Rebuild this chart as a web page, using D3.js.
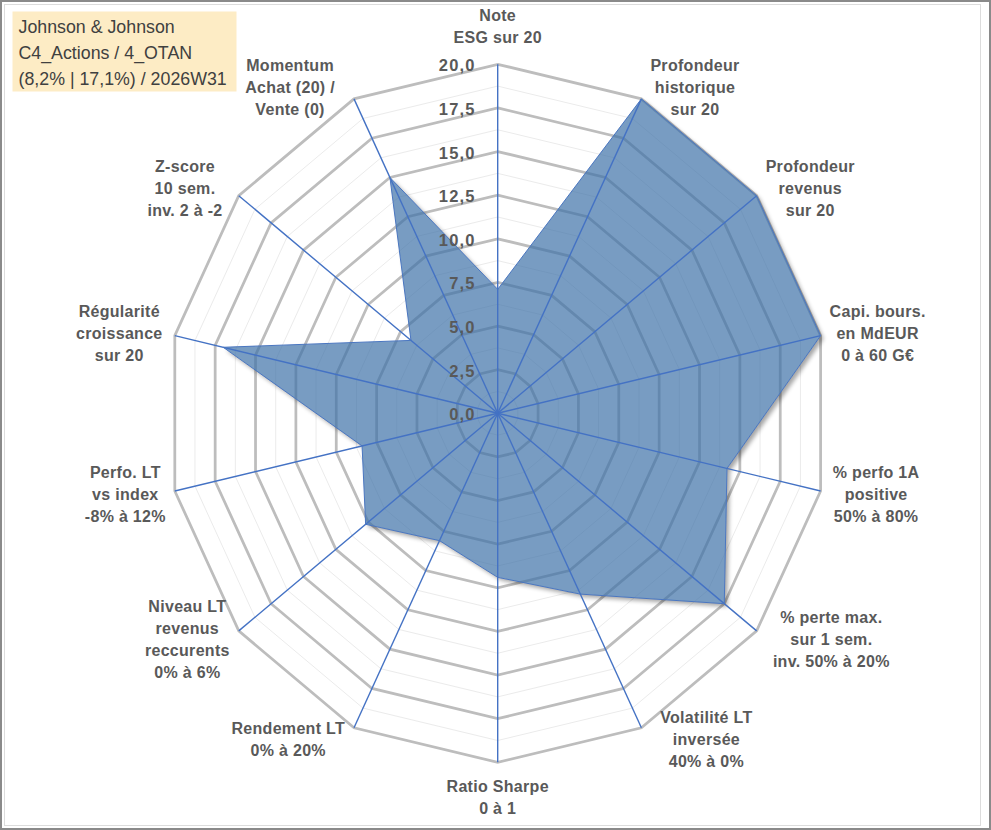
<!DOCTYPE html>
<html>
<head>
<meta charset="utf-8">
<script src="https://cdn.jsdelivr.net/npm/d3@7/dist/d3.min.js"></script>
<style>
  body { margin: 0; background: #fff; }
  svg { display: block; }
  .axis-label { font-family: "Liberation Sans", Arial, sans-serif; font-weight: bold; font-size: 16px; fill: #595959; letter-spacing: 0.3px; }
  .tick-label { font-family: "Liberation Sans", Arial, sans-serif; font-weight: bold; font-size: 16.5px; fill: #595959; letter-spacing: 1.2px; }
  .title { font-family: "Liberation Sans", Arial, sans-serif; font-size: 17.8px; fill: #404040; }
</style>
</head>
<body>
<svg width="991" height="830"></svg>
<script>
const categories = [
  "Note\nESG sur 20",
  "Profondeur\nhistorique\nsur 20",
  "Profondeur\nrevenus\nsur 20",
  "Capi. bours.\nen MdEUR\n0 à 60 G€",
  "% perfo 1A\npositive\n50% à 80%",
  "% perte max.\nsur 1 sem.\ninv. 50% à 20%",
  "Volatilité LT\ninversée\n40% à 0%",
  "Ratio Sharpe\n0 à 1",
  "Rendement LT\n0% à 20%",
  "Niveau LT\nrevenus\nreccurents\n0% à 6%",
  "Perfo. LT\nvs index\n-8% à 12%",
  "Régularité\ncroissance\nsur 20",
  "Z-score\n10 sem.\ninv. 2 à -2",
  "Momentum\nAchat (20) /\nVente (0)"
];
const values = [7.1, 20, 20, 20, 14.2, 17.5, 11.5, 9.4, 8.1, 10.2, 8.4, 17, 6.7, 15];
const tickValues = [0, 2.5, 5, 7.5, 10, 12.5, 15, 17.5, 20];
const tickLabels = ["0,0", "2,5", "5,0", "7,5", "10,0", "12,5", "15,0", "17,5", "20,0"];
const titleLines = ["Johnson & Johnson", "C4_Actions / 4_OTAN", "(8,2% | 17,1%) / 2026W31"];

const svg = d3.select('svg');
const W = 991, H = 830;

// the reference plot is a bit narrower than it is tall
const cx = 497.7, cy = 413.3;
const xStretch = 0.949;
const n = categories.length;

const rScale = d3.scaleLinear().domain([0, 20]).range([0, 349]);
const angle = d3.scaleLinear().domain([0, n]).range([0, 2 * Math.PI]);

const point = (i, v) => {
  const a = angle(i);
  return [cx + Math.sin(a) * rScale(v) * xStretch, cy - Math.cos(a) * rScale(v)];
};

// frame
svg.append('rect').attr('x', 1).attr('y', 1).attr('width', W - 2).attr('height', H - 2)
  .attr('fill', '#fff').attr('stroke', '#8a8a8a').attr('stroke-width', 2);
svg.append('rect').attr('x', 4.5).attr('y', 4.5).attr('width', 976).attr('height', H - 9)
  .attr('fill', 'none').attr('stroke', '#dcdcdc').attr('stroke-width', 1);

const defs = svg.append('defs');
const filter = defs.append('filter').attr('id', 'shadow')
  .attr('x', '-10%').attr('y', '-10%').attr('width', '120%').attr('height', '120%');
filter.append('feGaussianBlur').attr('in', 'SourceAlpha').attr('stdDeviation', 2.2).attr('result', 'blur');
filter.append('feOffset').attr('in', 'blur').attr('dx', 3).attr('dy', 3).attr('result', 'off');
filter.append('feComposite').attr('in', 'off').attr('in2', 'SourceAlpha').attr('operator', 'out');

const ring = d3.line().curve(d3.curveLinearClosed);
const ringPath = (v) => ring(d3.range(n).map(i => point(i, v)));

const chart = svg.append('g');

// minor rings between the labelled ones
const minorTicks = tickValues.slice(1).map(t => t - 1.25);
chart.selectAll('.minor').data(minorTicks).enter()
  .append('path').attr('class', 'minor')
  .attr('d', d => ringPath(d))
  .attr('fill', 'none').attr('stroke', '#ebebeb').attr('stroke-width', 1);

chart.selectAll('.major').data(tickValues.slice(1)).enter()
  .append('path').attr('class', 'major')
  .attr('d', d => ringPath(d))
  .attr('fill', 'none').attr('stroke', '#bdbdbd').attr('stroke-width', 2.75);

const seriesPath = ring(values.map((v, i) => point(i, v)));

chart.append('path')
  .attr('d', seriesPath)
  .attr('fill', '#000')
  .attr('opacity', 0.35)
  .attr('filter', 'url(#shadow)');

chart.append('path')
  .attr('d', seriesPath)
  .attr('fill', 'rgb(62,114,168)')
  .attr('fill-opacity', 0.7);

// spokes
chart.selectAll('.spoke').data(d3.range(n)).enter()
  .append('line').attr('class', 'spoke')
  .attr('x1', cx).attr('y1', cy)
  .attr('x2', i => point(i, 20)[0])
  .attr('y2', i => point(i, 20)[1])
  .attr('stroke', '#4472c4').attr('stroke-width', 1.4);

chart.append('path')
  .attr('d', seriesPath)
  .attr('fill', 'none')
  .attr('stroke', '#4a76c0')
  .attr('stroke-width', 1);

// value axis labels along the top spoke
chart.selectAll('.tick-label').data(tickValues).enter()
  .append('text').attr('class', 'tick-label')
  .attr('x', cx - 22)
  .attr('y', d => cy - rScale(d) + 7)
  .attr('text-anchor', 'end')
  .text((d, i) => tickLabels[i]);

// category labels
const lineH = 22;
categories.forEach((label, i) => {
  const lines = label.split('\n');
  const a = angle(i);
  const s = Math.sin(a), c = Math.cos(a);
  const [vx, vy] = point(i, 20);

  const t = chart.append('text').attr('class', 'axis-label').attr('text-anchor', 'middle');
  lines.forEach(l => t.append('tspan').text(l));
  const w = d3.max(t.selectAll('tspan').nodes(), nd => nd.getComputedTextLength());

  let mx, my;
  const blockH = lines.length * lineH;
  if (Math.abs(s) < 0.01) {
    mx = vx;
    my = c > 0 ? vy - 16 - blockH / 2 : vy + 13 + blockH / 2;
  } else {
    // labels on the lower right and upper left sit a little further out
    const gap = (s * c < 0) ? 10 + 10 * Math.abs(c) : 9;
    mx = vx + Math.sign(s) * (gap + w / 2);
    my = vy - 13 * c;
  }
  t.selectAll('tspan')
    .attr('x', mx)
    .attr('y', (d, k) => my + (k - (lines.length - 1) / 2) * lineH + 6);
});

// title box
const title = svg.append('g');
title.append('rect')
  .attr('x', 12.5).attr('y', 11.5).attr('width', 224).attr('height', 80)
  .attr('fill', '#fdecc5');
title.selectAll('text').data(titleLines).enter()
  .append('text').attr('class', 'title')
  .attr('x', 18.5)
  .attr('y', (d, i) => 33 + i * 26)
  .text(d => d);
</script>
</body>
</html>
